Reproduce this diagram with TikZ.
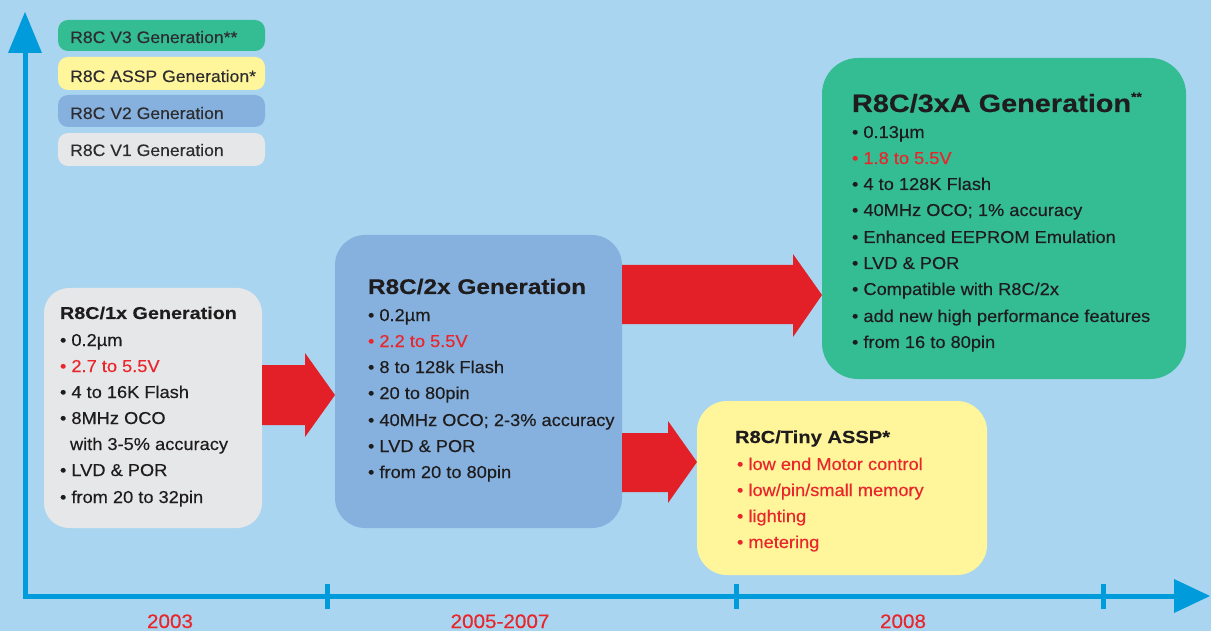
\documentclass[tikz,border=0pt]{standalone}
\usepackage{fontspec}
\setmainfont{Liberation Sans}[FakeStretch=1.06,FakeBold=0.3,BoldFeatures={FakeStretch=1.15,FakeBold=0.2}]
\usetikzlibrary{calc}
\definecolor{bgblue}{RGB}{170,213,240}
\definecolor{axisblue}{RGB}{0,155,219}
\definecolor{boxgreen}{RGB}{52,188,146}
\definecolor{boxyellow}{RGB}{255,245,155}
\definecolor{boxblue}{RGB}{134,177,222}
\definecolor{boxgray}{RGB}{230,231,232}
\definecolor{arrowred}{RGB}{227,32,40}
\definecolor{txtred}{RGB}{232,38,43}
\definecolor{ink}{RGB}{30,28,29}
\definecolor{leginK}{RGB}{45,45,47}
\newcommand\fbody{\fontsize{17.2}{20}\selectfont}
\newcommand\fleg{\fontsize{16.6}{18}\selectfont}
\newcommand\fyear{\fontsize{19.5}{20}\selectfont}
\newcommand\ftitleA{\fontsize{17.2}{20}\selectfont\bfseries}
\newcommand\ftitleB{\fontsize{21.2}{24}\selectfont\bfseries}
\newcommand\ftitleC{\fontsize{25.1}{30}\selectfont\bfseries}
\newcommand\ftitleD{\fontsize{17.5}{20}\selectfont\bfseries}
\begin{document}
\begin{tikzpicture}[x=1pt,y=-1pt,
  box/.style={anchor=north west, inner sep=0pt, outer sep=0pt, draw=none},
  legbox/.style={box, minimum width=207pt, rounded corners=10pt},
  ln/.style={anchor=base west, inner sep=0pt, outer sep=0pt, text=ink, font=\fbody},
  hot/.style={ln, text=txtred},
  leg/.style={anchor=base west, inner sep=0pt, text=leginK, font=\fleg},
  year/.style={anchor=base, inner sep=0pt, text=txtred, font=\fyear},
  blockarrow/.style={fill=arrowred},
  axis/.style={draw=axisblue, line width=5pt},
  tick/.style={draw=axisblue, line width=5pt}]
\useasboundingbox (0,0) rectangle (1211,631);
\fill[bgblue] (0,0) rectangle (1211,631);

% axes
\coordinate (top) at (25,12);
\coordinate (org) at (25,596);
\coordinate (right) at (1210,596);
\draw[axis, line join=miter] (25,52) -- (org) -- (1176,596);
\fill[axisblue] (top) -- (8,53) -- (42,53) -- cycle;
\fill[axisblue] (right) -- (1174,579) -- (1174,613) -- cycle;
\draw[tick] (327,584) -- (327,609);
\draw[tick] (736,584) -- (736,609);
\draw[tick] (1103,584) -- (1103,609);
\node[year] (y1) at (170,628) {2003};
\node[year] (y2) at (500,628) {2005-2007};
\node[year] (y3) at (903,628) {2008};

% legend
\node[legbox, fill=boxgreen, minimum height=31pt] (lv3) at (58,20) {};
\node[legbox, fill=boxyellow, minimum height=33pt] (lassp) at (58,57) {};
\node[legbox, fill=boxblue, minimum height=32pt] (lv2) at (58,95) {};
\node[legbox, fill=boxgray, minimum height=33pt] (lv1) at (58,133) {};
\node[leg] (tv3) at (70,43) {R8C V3 Generation**};
\node[leg] (tassp) at (70,82) {R8C ASSP Generation*};
\node[leg] (tv2) at (70,119) {R8C V2 Generation};
\node[leg] (tv1) at (70,156) {R8C V1 Generation};

% boxes
\node[box, fill=boxgray, rounded corners=25pt, minimum width=218pt, minimum height=240pt] (b1) at (44,288) {};
\node[box, fill=boxblue, rounded corners=30pt, minimum width=287pt, minimum height=293pt] (b2) at (335,235) {};
\node[box, fill=boxgreen, rounded corners=36pt, minimum width=364pt, minimum height=321pt] (b3) at (822,58) {};
\node[box, fill=boxyellow, rounded corners=30pt, minimum width=290pt, minimum height=174pt] (b4) at (697,401) {};

% block arrows
\fill[blockarrow] (b1.east |- 0,365) -- (305,365) -- (305,353) -- (b2.west |- 0,395)
  -- (305,437) -- (305,425) -- (b1.east |- 0,425) -- cycle;
\fill[blockarrow] (b2.east |- 0,265) -- (793,265) -- (793,254) -- (b3.west |- 0,295)
  -- (793,337) -- (793,324) -- (b2.east |- 0,324) -- cycle;
\fill[blockarrow] (b2.east |- 0,433) -- (668,433) -- (668,421) -- (b4.west |- 0,462)
  -- (668,503) -- (668,492) -- (b2.east |- 0,492) -- cycle;

% box 1 text
\node[ln, font=\ftitleA] (b1t) at (60,319) {R8C/1x Generation};
\node[ln] (b1a) at (60,346) {• 0.2µm};
\node[hot] (b1b) at (60,372) {• 2.7 to 5.5V};
\node[ln] (b1c) at (60,398) {• 4 to 16K Flash};
\node[ln] (b1d) at (60,424) {• 8MHz OCO};
\node[ln] (b1e) at (70,450) {with 3-5\% accuracy};
\node[ln] (b1f) at (60,476) {• LVD \& POR};
\node[ln] (b1g) at (60,503) {• from 20 to 32pin};

% box 2 text
\node[ln, font=\ftitleB] (b2t) at (368,294) {R8C/2x Generation};
\node[ln] (b2a) at (368,321) {• 0.2µm};
\node[hot] (b2b) at (368,347) {• 2.2 to 5.5V};
\node[ln] (b2c) at (368,373) {• 8 to 128k Flash};
\node[ln] (b2d) at (368,399) {• 20 to 80pin};
\node[ln] (b2e) at (368,426) {• 40MHz OCO; 2-3\% accuracy};
\node[ln] (b2f) at (368,452) {• LVD \& POR};
\node[ln] (b2g) at (368,478) {• from 20 to 80pin};

% box 3 text
\node[ln, font=\ftitleC] (b3t) at (852,112) {R8C/3xA Generation\raisebox{11pt}{\fontsize{12}{12}\selectfont **}};
\node[ln] (b3a) at (852,138) {• 0.13µm};
\node[hot] (b3b) at (852,164) {• 1.8 to 5.5V};
\node[ln] (b3c) at (852,190) {• 4 to 128K Flash};
\node[ln] (b3d) at (852,216) {• 40MHz OCO; 1\% accuracy};
\node[ln] (b3e) at (852,243) {• Enhanced EEPROM Emulation};
\node[ln] (b3f) at (852,269) {• LVD \& POR};
\node[ln] (b3g) at (852,295) {• Compatible with R8C/2x};
\node[ln] (b3h) at (852,322) {• add new high performance features};
\node[ln] (b3i) at (852,348) {• from 16 to 80pin};

% box 4 text
\node[ln, font=\ftitleD] (b4t) at (735,443) {R8C/Tiny ASSP*};
\node[hot] (b4a) at (737,470) {• low end Motor control};
\node[hot] (b4b) at (737,496) {• low/pin/small memory};
\node[hot] (b4c) at (737,522) {• lighting};
\node[hot] (b4d) at (737,548) {• metering};
\end{tikzpicture}
\end{document}
